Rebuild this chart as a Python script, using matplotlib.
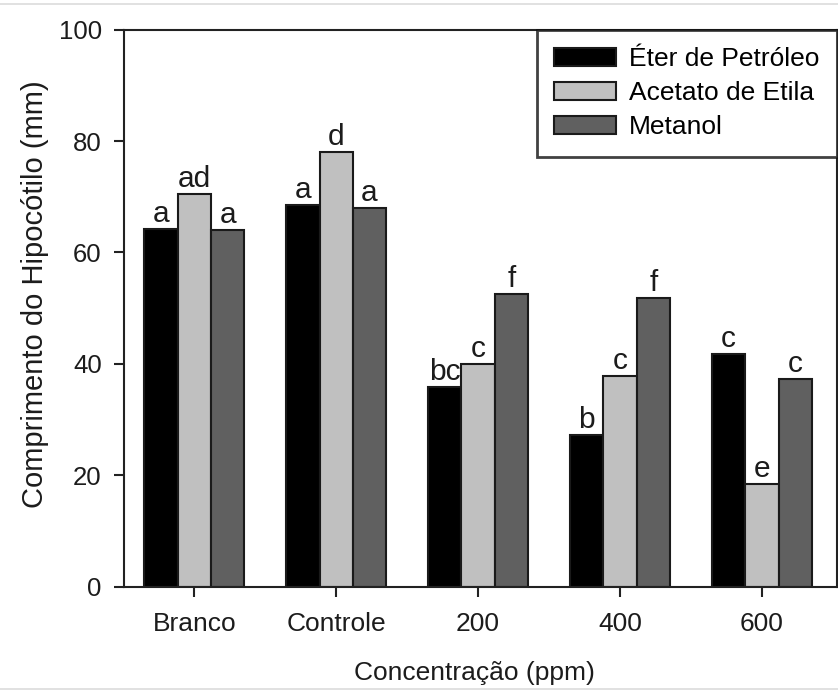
import matplotlib
matplotlib.use("Agg")
import matplotlib.pyplot as plt
from matplotlib.lines import Line2D
import numpy as np

plt.rcParams['font.family'] = ['Liberation Sans', 'DejaVu Sans']

categories = ["Branco", "Controle", "200", "400", "600"]
series_names = ["Éter de Petróleo", "Acetato de Etila", "Metanol"]
eter = [64.2, 68.6, 35.9, 27.3, 41.8]
acetato = [70.5, 78.1, 39.9, 37.9, 18.4]
metanol = [64.1, 68.0, 52.6, 51.8, 37.3]
letters_eter = ["a", "a", "bc", "b", "c"]
letters_acetato = ["ad", "d", "c", "c", "e"]
letters_metanol = ["a", "a", "f", "f", "c"]
yticks = [0, 20, 40, 60, 80, 100]

values = [eter, acetato, metanol]
letters = [letters_eter, letters_acetato, letters_metanol]
colors = ["#000000", "#c0c0c0", "#606060"]
ink = "#1c1c1c"

fig = plt.figure(figsize=(8.38, 6.91), dpi=100)
ax = fig.add_axes([0.148, 0.151, 0.851, 0.806])

x = np.arange(len(categories))
width = 0.235

for i, (vals, labs, col, name) in enumerate(zip(values, letters, colors, series_names)):
    xpos = x + (i - 1) * width
    ax.bar(xpos, vals, width=width, color=col, edgecolor="#1a1a1a",
           linewidth=1.5, label=name, zorder=2)
    for xp, v, lab in zip(xpos, vals, labs):
        ax.annotate(lab, xy=(xp, v), xytext=(0, 5), textcoords="offset points",
                    ha="center", va="baseline", fontsize=21.5, color=ink)

ax.set_xlim(-0.495, 4.53)
ax.set_ylim(0, 100)
ax.set_xticks(x)
ax.set_xticklabels(categories, fontsize=19)
ax.set_yticks(yticks)
ax.set_yticklabels([str(t) for t in yticks], fontsize=18.5)
ax.tick_params(axis="both", direction="out", length=7, width=1.5, color="#222222",
               labelcolor=ink)
ax.tick_params(axis="y", pad=9)
ax.tick_params(axis="x", pad=11)
for s in ax.spines.values():
    s.set_linewidth(1.5)
    s.set_color("#222222")

ax.set_ylabel("Comprimento do Hipocótilo (mm)", fontsize=21, color=ink)
ax.yaxis.set_label_coords(-0.105, 0.526)
ax.set_xlabel("Concentração (ppm)", fontsize=19, color=ink)
ax.xaxis.set_label_coords(0.491, -0.133)

leg = ax.legend(loc="upper right", fontsize=19, frameon=True, fancybox=False,
                borderaxespad=0.0, handlelength=2.35, handleheight=0.65,
                handletextpad=0.5, labelspacing=0.38, borderpad=0.66)
leg.get_frame().set_edgecolor("#111111")
leg.get_frame().set_linewidth(2.0)

# thin frame lines along the top and bottom of the canvas
for yy in (0.994, 0.003):
    fig.add_artist(Line2D([0, 1], [yy, yy], transform=fig.transFigure,
                          color="#dcdcdc", linewidth=1.2))

fig.savefig("out.png", dpi=100)
